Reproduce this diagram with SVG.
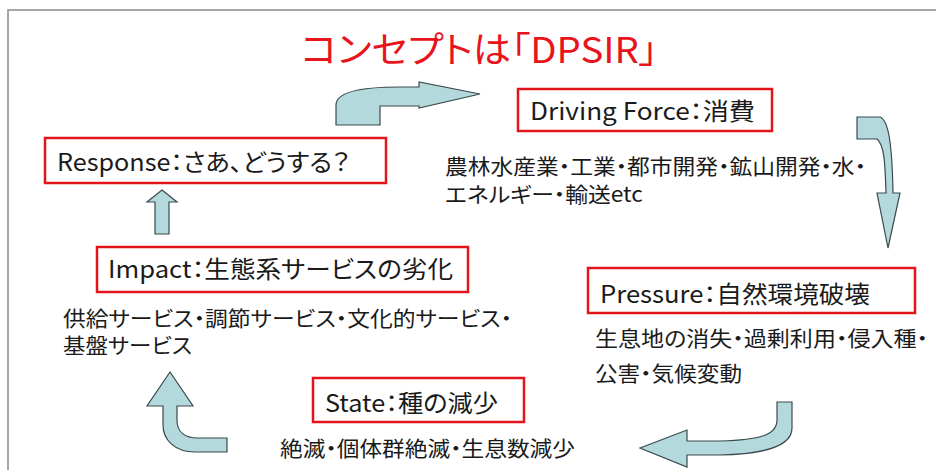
<svg xmlns="http://www.w3.org/2000/svg" width="939" height="470" viewBox="0 0 939 470">
<style>
text{font-family:"Noto Sans CJK JP","Noto Sans",sans-serif;fill:#1a1a1a;font-feature-settings:"palt" 1}
.title{font-size:36px;fill:#e8141c}
.lbl{font-size:24px}
.desc{font-size:21px}
.box{fill:#fff;stroke:#e3141c;stroke-width:2.5}
.arr{fill:#b4d9dd;stroke:#3b4a4c;stroke-width:1.2;stroke-linejoin:miter}
</style>
<rect width="939" height="470" fill="#fff"/>
<path d="M8 470 V10 H936" fill="none" stroke="#8a8a8a" stroke-width="1.5"/>
<text class="title" x="301" y="63" textLength="357" lengthAdjust="spacingAndGlyphs">コンセプトは「DPSIR」</text>

<g id="driving">
<rect class="box" x="518" y="89" width="254" height="42"/>
<text class="lbl" x="530" y="120" textLength="225" lengthAdjust="spacingAndGlyphs">Driving Force：消費</text>
<text class="desc" x="445" y="174" textLength="421" lengthAdjust="spacingAndGlyphs">農林水産業・工業・都市開発・鉱山開発・水・</text>
<text class="desc" x="445" y="202" textLength="198" lengthAdjust="spacingAndGlyphs">エネルギー・輸送etc</text>
</g>
<g id="pressure">
<rect class="box" x="588" y="268" width="327" height="45"/>
<text class="lbl" x="600" y="303" textLength="270" lengthAdjust="spacingAndGlyphs">Pressure：自然環境破壊</text>
<text class="desc" x="595" y="346" textLength="333" lengthAdjust="spacingAndGlyphs">生息地の消失・過剰利用・侵入種・</text>
<text class="desc" x="595" y="381" textLength="147" lengthAdjust="spacingAndGlyphs">公害・気候変動</text>
</g>
<g id="state">
<rect class="box" x="313" y="378" width="211" height="44"/>
<text class="lbl" x="325" y="412" textLength="173" lengthAdjust="spacingAndGlyphs">State：種の減少</text>
<text class="desc" x="280" y="456" textLength="295" lengthAdjust="spacingAndGlyphs">絶滅・個体群絶滅・生息数減少</text>
</g>
<g id="impact">
<rect class="box" x="97" y="247" width="371" height="45"/>
<text class="lbl" x="108" y="278" textLength="345" lengthAdjust="spacingAndGlyphs">Impact：生態系サービスの劣化</text>
<text class="desc" x="63" y="326" textLength="449" lengthAdjust="spacingAndGlyphs">供給サービス・調節サービス・文化的サービス・</text>
<text class="desc" x="63" y="353" textLength="129" lengthAdjust="spacingAndGlyphs">基盤サービス</text>
</g>
<g id="response">
<rect class="box" x="45" y="138" width="341" height="45"/>
<text class="lbl" x="57" y="171" textLength="293" lengthAdjust="spacingAndGlyphs">Response：さあ、どうする？</text>
</g>

<g id="connectors">
<path class="arr" d="M336,125 L380,125 L380,106 L419,106 L419,108 L480,94 L419,82 L419,87 L400,87 C360,87 336,92 336,105 Z"/>
<path class="arr" d="M857,117 L880,117 C888,120 892,140 893,193 L900,193 L888,248 L877,193 L886,193 C885,160 884,145 877,139 L857,139 Z"/>
<path class="arr" d="M777,402 L792,402 L792,428 C792,448 760,454 720,455 L687,455 L687,467 L640,448 L687,430 L687,441 L720,441 C760,440 777,435 777,420 Z"/>
<path class="arr" d="M170,372 L193,406 L177,406 L177,420 C177,432 185,438 198,438 L227,438 L227,452 L195,452 C175,452 163,440 163,425 L163,406 L147,406 Z"/>
<path class="arr" d="M162,190 L177,202 L169,202 L169,234 L155,234 L155,202 L147,202 Z"/>
</g>
</svg>
